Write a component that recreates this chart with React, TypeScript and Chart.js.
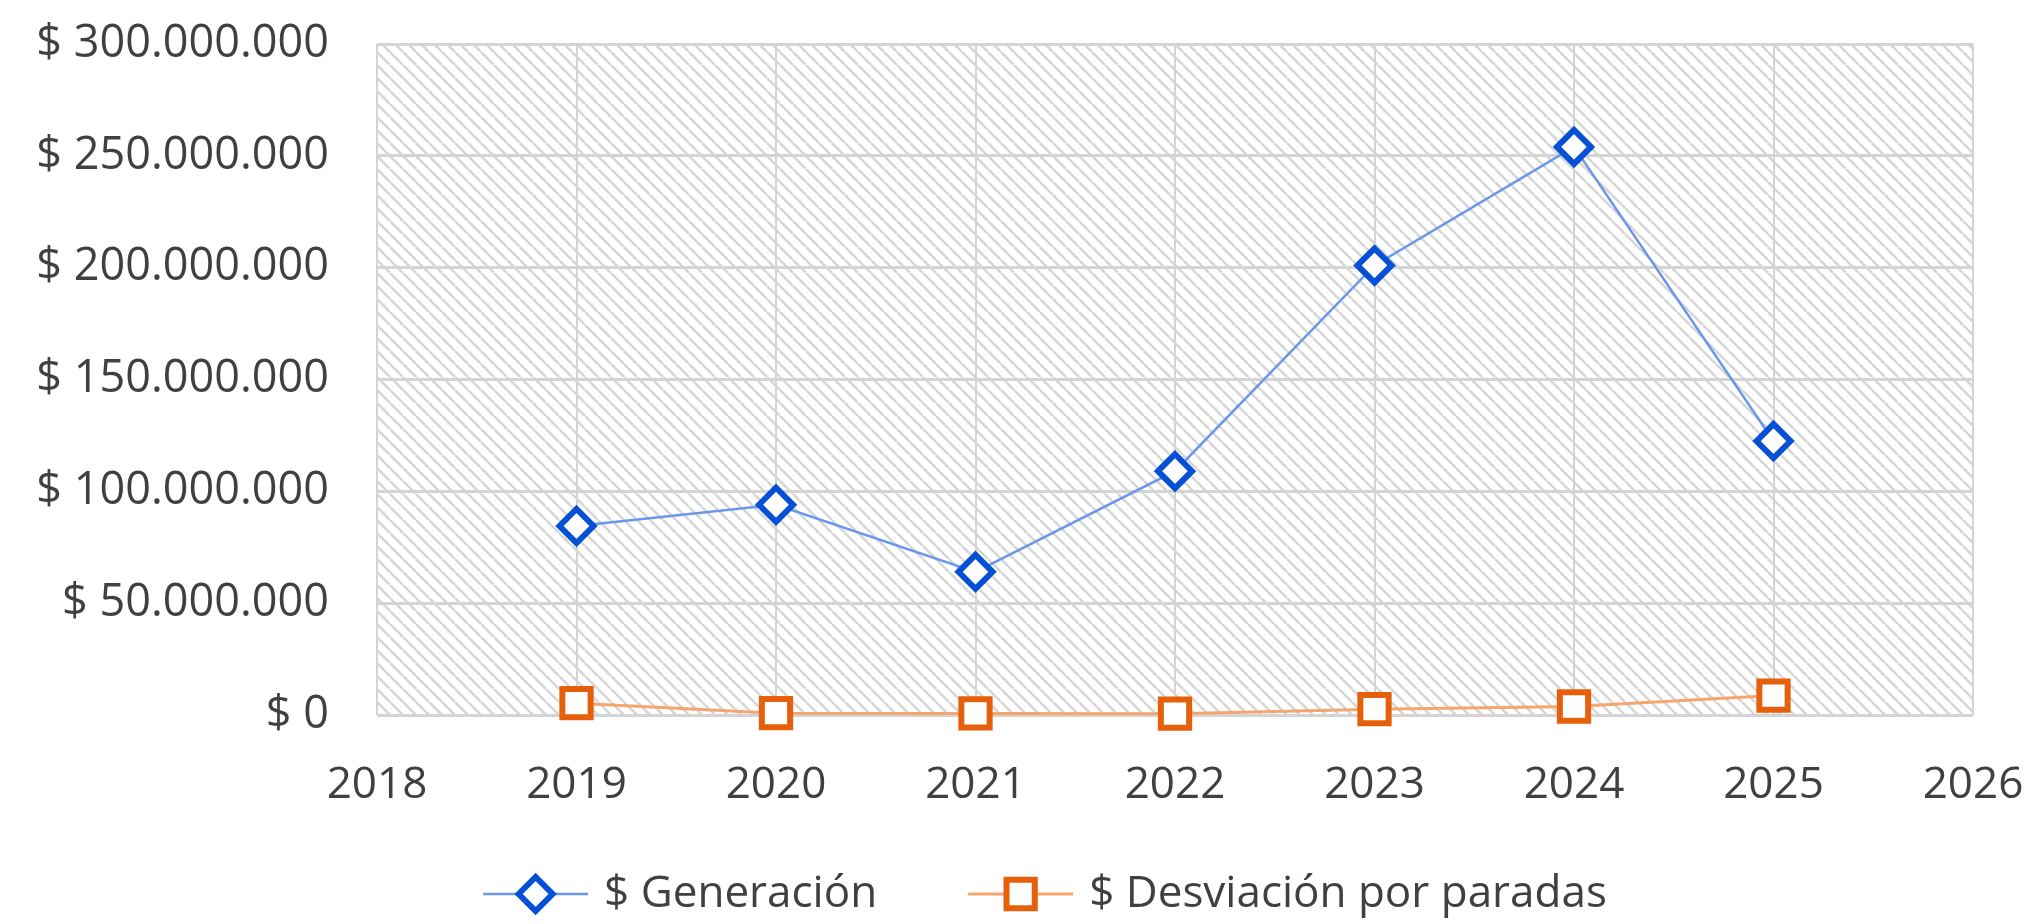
import React, { useEffect, useRef } from "react";
import { Chart, registerables } from "chart.js";

Chart.register(...registerables);

// ---- Data ----
const years = [2019, 2020, 2021, 2022, 2023, 2024, 2025];
const generacion = [84500000, 94000000, 64000000, 109000000, 201000000, 254000000, 122500000];
const desviacion = [5300000, 800000, 700000, 600000, 2600000, 3800000, 8700000];
const seriesNames = ["$ Generación", "$ Desviación por paradas"];
const xMin = 2018;
const xMax = 2026;
const yMin = 0;
const yMax = 300000000;
const yStep = 50000000;

// ---- Styles ----
const FONT = "'Open Sans', 'Noto Sans', sans-serif";
const TEXT = "#404040";
const GRID = "#d4d4d4";
const BLUE_MARK = "#0650d6";
const BLUE_LINE = "#6a97ec";
const ORANGE_MARK = "#e6600c";
const ORANGE_LINE = "#f5a56e";

function formatMoney(v: number): string {
  const s = Math.round(v).toString().replace(/\B(?=(\d{3})+(?!\d))/g, ".");
  return "$ " + s;
}

function makeHatch(): CanvasPattern | string {
  const s = 13;
  const c = document.createElement("canvas");
  c.width = s;
  c.height = s;
  const g = c.getContext("2d");
  if (!g) return "#eeeeee";
  g.fillStyle = "#ffffff";
  g.fillRect(0, 0, s, s);
  g.strokeStyle = "#d6d6d6";
  g.lineWidth = 2.5;
  g.beginPath();
  for (const x0 of [-s, 0, s]) {
    g.moveTo(x0, 0);
    g.lineTo(x0 + s, s);
  }
  g.stroke();
  const p = g.createPattern(c, "repeat");
  return p || "#eeeeee";
}

const hatchPlugin = {
  id: "hatchBackground",
  beforeDraw(chart: any) {
    const { ctx, chartArea } = chart;
    if (!chartArea) return;
    ctx.save();
    ctx.fillStyle = makeHatch();
    ctx.fillRect(chartArea.left, chartArea.top, chartArea.right - chartArea.left, chartArea.bottom - chartArea.top);
    ctx.restore();
  },
};

function drawMarker(ctx: CanvasRenderingContext2D, style: string, x: number, y: number, r: number) {
  ctx.beginPath();
  if (style === "rectRot") {
    ctx.moveTo(x - r, y);
    ctx.lineTo(x, y - r);
    ctx.lineTo(x + r, y);
    ctx.lineTo(x, y + r);
    ctx.closePath();
  } else {
    const h = Math.SQRT1_2 * r;
    ctx.rect(x - h, y - h, 2 * h, 2 * h);
  }
  ctx.fill();
  ctx.stroke();
}

const legendPlugin = {
  id: "lineMarkerLegend",
  afterDraw(chart: any) {
    const ctx: CanvasRenderingContext2D = chart.ctx;
    const y = 894;
    const centerX = 1045;
    const symW = 105;
    const gap = 16;
    const itemGap = 91;
    ctx.save();
    ctx.font = `44px ${FONT}`;
    const dss = chart.data.datasets;
    const widths = dss.map((ds: any) => symW + gap + ctx.measureText(ds.label).width);
    const total = widths.reduce((a: number, b: number) => a + b, 0) + itemGap * (dss.length - 1);
    let x = centerX - total / 2;
    dss.forEach((ds: any, i: number) => {
      ctx.strokeStyle = ds.borderColor;
      ctx.lineWidth = ds.borderWidth;
      ctx.beginPath();
      ctx.moveTo(x, y);
      ctx.lineTo(x + symW, y);
      ctx.stroke();
      ctx.fillStyle = ds.pointBackgroundColor;
      ctx.strokeStyle = ds.pointBorderColor;
      ctx.lineWidth = ds.pointBorderWidth;
      drawMarker(ctx, ds.pointStyle, x + symW / 2, y, ds.pointRadius);
      ctx.fillStyle = TEXT;
      ctx.textAlign = "left";
      ctx.textBaseline = "middle";
      ctx.fillText(ds.label, x + symW + gap, y);
      x += widths[i] + itemGap;
    });
    ctx.restore();
  },
};

export default function App() {
  const ref = useRef<HTMLCanvasElement>(null);

  useEffect(() => {
    if (!ref.current) return;
    const chart = new Chart(ref.current, {
      type: "line",
      data: {
        datasets: [
          {
            label: seriesNames[0],
            data: years.map((yr, i) => ({ x: yr, y: generacion[i] })),
            borderColor: BLUE_LINE,
            borderWidth: 2.5,
            pointStyle: "rectRot",
            pointRadius: 17,
            pointBorderWidth: 6,
            pointBorderColor: BLUE_MARK,
            pointBackgroundColor: "#ffffff",
            tension: 0,
            clip: false,
          } as any,
          {
            label: seriesNames[1],
            data: years.map((yr, i) => ({ x: yr, y: desviacion[i] })),
            borderColor: ORANGE_LINE,
            borderWidth: 3,
            pointStyle: "rect",
            pointRadius: 20,
            pointBorderWidth: 6,
            pointBorderColor: ORANGE_MARK,
            pointBackgroundColor: "#ffffff",
            tension: 0,
            clip: false,
          } as any,
        ],
      },
      options: {
        responsive: false,
        animation: false,
        devicePixelRatio: 1,
        layout: { padding: { top: 44, right: 60, bottom: 109, left: 0 } },
        plugins: {
          legend: { display: false },
          tooltip: { enabled: false },
        },
        scales: {
          x: {
            type: "linear",
            min: xMin,
            max: xMax,
            afterFit: (scale: any) => {
              scale.height = 100;
              scale.paddingLeft = 0;
              scale.paddingRight = 0;
            },
            ticks: {
              stepSize: 1,
              autoSkip: false,
              maxRotation: 0,
              padding: 44,
              color: TEXT,
              font: { family: FONT, size: 44 },
              callback: (v: any) => String(v),
            },
            grid: { color: GRID, lineWidth: 2, drawTicks: false },
            border: { display: false },
          },
          y: {
            type: "linear",
            min: yMin,
            max: yMax,
            afterFit: (scale: any) => {
              scale.width = 377;
              scale.paddingTop = 0;
              scale.paddingBottom = 0;
            },
            ticks: {
              stepSize: yStep,
              padding: 48,
              color: TEXT,
              font: { family: FONT, size: 45 },
              callback: (v: any) => formatMoney(Number(v)),
            },
            grid: { color: GRID, lineWidth: 3, drawTicks: false },
            border: { display: false },
          },
        },
      },
      plugins: [hatchPlugin, legendPlugin],
    });
    return () => chart.destroy();
  }, []);

  return (
    <div style={{ position: "fixed", left: 0, top: 0, width: 2033, height: 924, background: "#ffffff" }}>
      <canvas ref={ref} width={2033} height={924} style={{ display: "block", width: 2033, height: 924 }} />
    </div>
  );
}
